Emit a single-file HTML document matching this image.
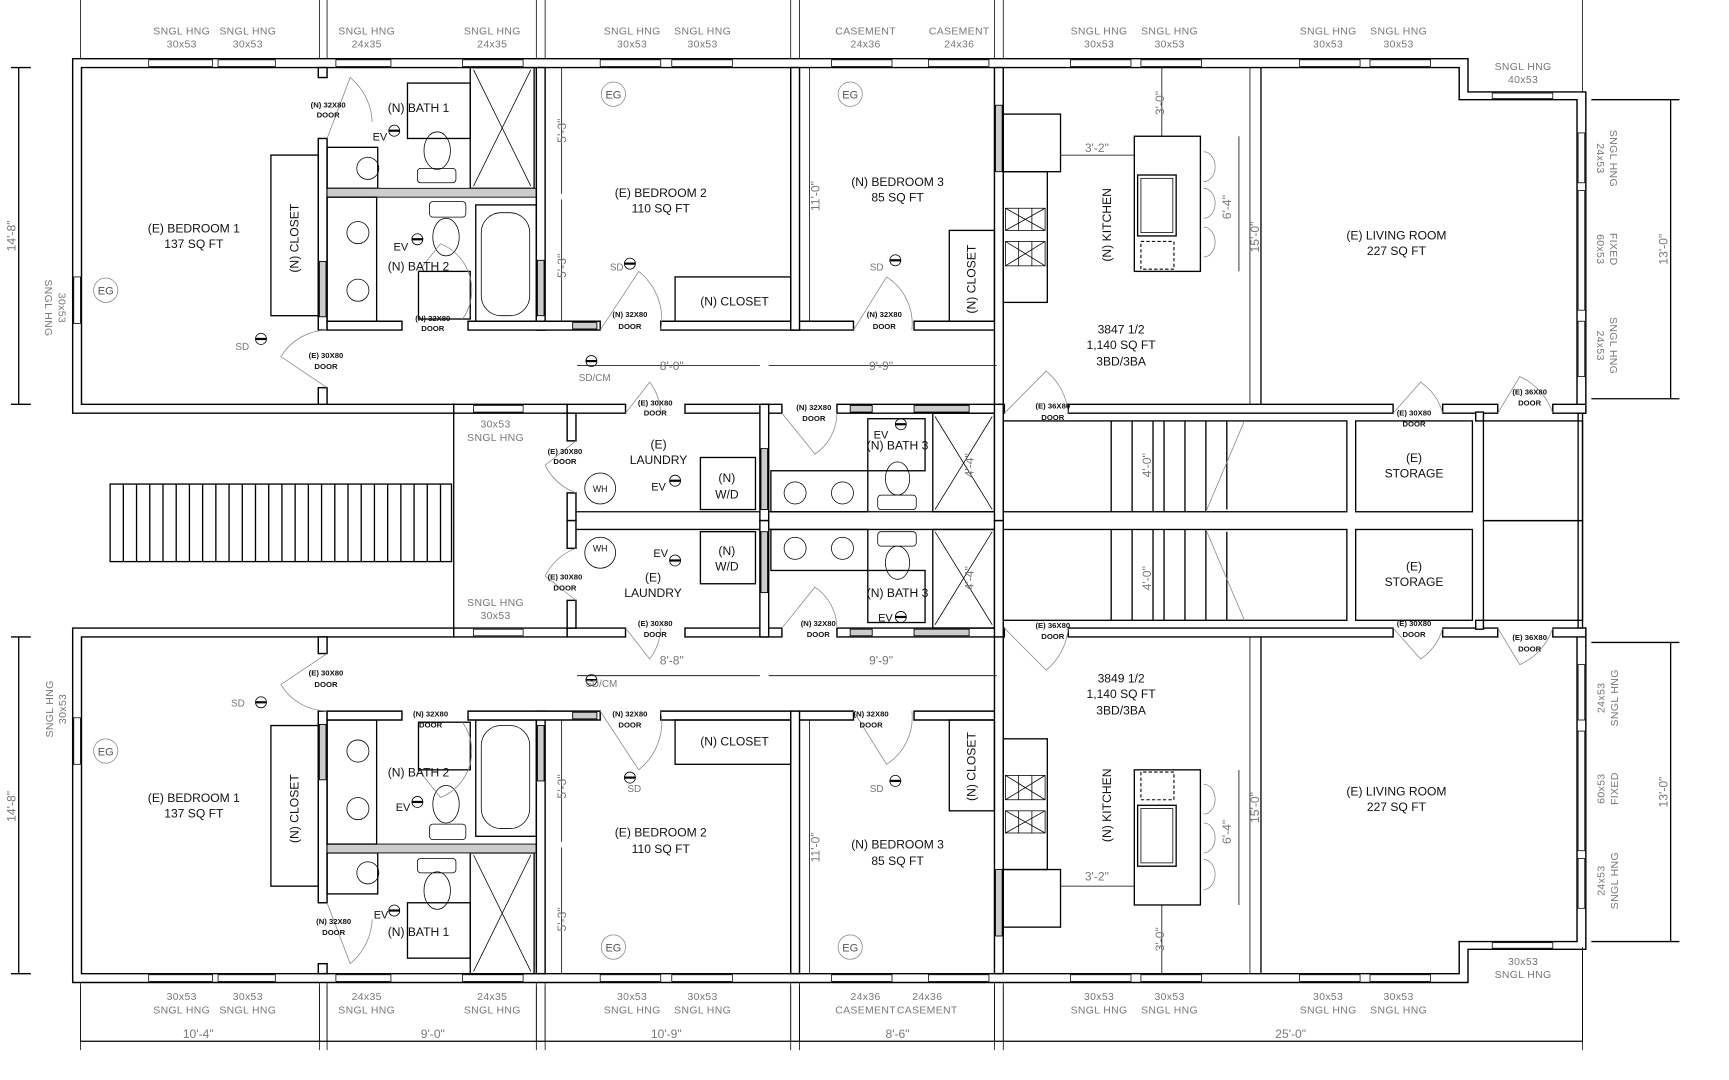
<!DOCTYPE html>
<html><head><meta charset="utf-8">
<style>
html,body{margin:0;padding:0;background:#fff;}
svg{display:block;}
text{font-family:"Liberation Sans",sans-serif;}
.w{fill:#fff;stroke:#000;stroke-width:1.3;}
.l{fill:none;stroke:#000;stroke-width:1.2;}
.t{fill:none;stroke:#000;stroke-width:0.7;}
.g{fill:none;stroke:#888;stroke-width:0.7;}
.h{fill:#ccc;stroke:#000;stroke-width:0.8;}
.rm{font-size:11px;fill:#111;text-anchor:middle;}
.dr{font-size:7px;fill:#111;text-anchor:middle;font-weight:bold;}
.wn{font-size:9.5px;fill:#777;text-anchor:middle;letter-spacing:0.3px;}
.dm{font-size:11px;fill:#777;text-anchor:middle;}
</style></head><body>
<svg width="1729" height="1080" viewBox="0 0 1570 975" preserveAspectRatio="none" xmlns="http://www.w3.org/2000/svg">
<defs>
<g id="u">
 <path class="w" d="M66,53 H1333 V83 H1440 V373 H1432 V90 H1325 V61 H74 V365 H412 V373 H66 Z"/>
 <g class="t">
  <rect x="135" y="54" width="58" height="6"/><rect x="198" y="54" width="52" height="6"/>
  <rect x="305" y="54" width="50" height="6"/><rect x="420" y="54" width="55" height="6"/>
  <rect x="545" y="54" width="55" height="6"/><rect x="610" y="54" width="55" height="6"/>
  <rect x="755" y="54" width="55" height="6"/><rect x="843" y="54" width="55" height="6"/>
  <rect x="972" y="54" width="55" height="6"/><rect x="1036" y="54" width="55" height="6"/>
  <rect x="1180" y="54" width="55" height="6"/><rect x="1244" y="54" width="55" height="6"/>
  <rect x="1355" y="84" width="55" height="5"/>
  <rect x="1433" y="120" width="6" height="45"/><rect x="1433" y="172" width="6" height="108"/><rect x="1433" y="290" width="6" height="50"/>
  <rect x="67" y="250" width="6" height="42"/>
 </g>
 <path class="w" d="M412,365 H515 V373 H412 Z"/>
 <path class="w" d="M515,365 H568 V373 H515 Z"/>
 <path class="w" d="M622,365 H710 V373 H622 Z"/>
 <path class="w" d="M760,365 H912 V373 H760 Z"/>
 <rect class="h" x="772" y="366" width="20" height="6"/><rect class="h" x="830" y="366" width="50" height="6"/>
 <path class="w" d="M970,365 H1265 V373 H970 Z"/>
 <path class="w" d="M1310,365 H1360 V373 H1310 Z"/>
 <path class="w" d="M1410,365 H1440 V373 H1410 Z"/>
 <rect class="w" x="289" y="61" width="8" height="9"/>
 <rect class="w" x="289" y="125" width="8" height="173"/>
 <rect class="h" x="290" y="236" width="6" height="50"/>
 <rect class="w" x="289" y="350" width="8" height="15"/>
 <rect class="l" x="246" y="140" width="43" height="145"/>
 <rect class="l" x="297" y="133" width="46" height="37"/><circle class="t" cx="334" cy="152" r="10"/>
 <rect class="l" x="370" y="75" width="57" height="50"/>
 <ellipse class="t" cx="397" cy="136" rx="12" ry="17"/><rect class="t" x="379" y="152" width="35" height="13" rx="3"/>
 <rect class="l" x="427" y="61" width="58" height="109"/>
 <path class="t" d="M430,63 L482,168 M482,63 L430,168"/>
 <rect class="h" x="297" y="170" width="190" height="8"/>
 <rect class="l" x="297" y="178" width="45" height="112"/>
 <circle class="t" cx="325" cy="210" r="10"/><circle class="t" cx="325" cy="262" r="10"/>
 <rect class="t" x="390" y="182" width="33" height="14" rx="3"/><ellipse class="t" cx="405" cy="214" rx="12" ry="17"/>
 <rect class="l" x="380" y="245" width="47" height="43"/>
 <rect class="l" x="432" y="185" width="55" height="105"/>
 <rect class="t" x="437" y="192" width="44" height="93" rx="18"/>
 <rect class="w" x="487" y="61" width="8" height="237"/>
 <rect class="h" x="488" y="235" width="6" height="50"/>
 <path class="w" d="M297,290 H365 V298 H297 Z"/>
 <path class="w" d="M425,290 H545 V298 H425 Z"/><rect class="h" x="520" y="291" width="22" height="6"/>
 <path class="w" d="M600,290 H775 V298 H600 Z"/>
 <path class="w" d="M830,290 H911 V298 H830 Z"/>
 <rect class="w" x="718" y="61" width="8" height="237"/>
 <rect class="w" x="903" y="61" width="8" height="305"/>
 <rect class="h" x="904" y="95" width="6" height="60"/>
 <rect class="l" x="613" y="250" width="105" height="40"/>
 <rect class="l" x="862" y="208" width="41" height="82"/>
 <rect class="l" x="911" y="103" width="52" height="52"/>
 <rect class="l" x="911" y="155" width="40" height="118"/>
 <g class="t">
  <rect x="913" y="188" width="36" height="20"/><rect x="913" y="218" width="36" height="22"/>
  <path d="M913,188 L949,208 M949,188 L913,208 M925,188 V208 M937,188 V208 M913,218 L949,240 M949,218 L913,240 M925,218 V240 M937,218 V240"/>
 </g>
 <rect class="l" x="1030" y="123" width="60" height="122"/>
 <rect class="l" x="1033" y="158" width="35" height="55"/><rect class="t" x="1036" y="161" width="29" height="49"/>
 <rect x="1036" y="218" width="30" height="25" fill="none" stroke="#000" stroke-width="1" stroke-dasharray="3,2"/>
 <path class="g" d="M1093,137 a10,13 0 0 1 0,27 M1093,170 a10,13 0 0 1 0,27 M1093,205 a10,13 0 0 1 0,27"/>
 <path class="l" d="M1145,61 V365"/>
 <path class="t" d="M963,140 H1030 M1055,61 V123 M1125,123 V245 M1135,61 V365"/>
 <path class="g" d="M297,125 L318,70 A55,55 0 0 1 338,110"/>
 <path class="g" d="M297,350 L255,322 A50,50 0 0 1 297,298"/>
 <path class="g" d="M380,245 L400,220 A45,45 0 0 1 420,288"/>
 <path class="g" d="M545,298 L580,245 A55,55 0 0 1 600,298"/>
 <path class="g" d="M775,298 L805,250 A50,50 0 0 1 828,298"/>
 <g class="g"><circle cx="557" cy="85" r="11"/><circle cx="772" cy="85" r="11"/><circle cx="96" cy="262" r="11"/></g>
 <g><circle cx="237" cy="306" r="5" class="t"/><rect x="232" y="305" width="10" height="2"/>
 <circle cx="358" cy="118" r="5" class="t"/><rect x="353" y="117" width="10" height="2"/>
 <circle cx="379" cy="216" r="5" class="t"/><rect x="374" y="215" width="10" height="2"/>
 <circle cx="572" cy="238" r="5" class="t"/><rect x="567" y="237" width="10" height="2"/>
 <circle cx="813" cy="235" r="5" class="t"/><rect x="808" y="234" width="10" height="2"/>
 <circle cx="537" cy="326" r="5" class="t"/><rect x="532" y="325" width="10" height="2"/></g>
 <path class="l" d="M17,61 V365 M10,61 H28 M10,365 H28"/>
 <path class="t" d="M510,61 V175 M510,180 V290 M735,61 V290 M524,330 H690 M698,330 H905"/>
 <path class="l" d="M1517,90 V360 M1445,90 H1525 M1445,360 H1525"/>
 <path class="t" d="M73,0 V53 M290,0 V53 M297,0 V53 M487,0 V53 M495,0 V53 M718,0 V53 M726,0 V53 M903,0 V53 M911,0 V53 M1437,0 V83"/>
 <path class="l" d="M412,373 V470"/>
 <rect class="t" x="430" y="366" width="45" height="6"/>
 <rect class="w" x="515" y="373" width="8" height="25"/>
 <rect class="w" x="515" y="445" width="8" height="25"/>
 <path class="g" d="M523,398 L495,420 A50,50 0 0 0 523,445"/>
 <path class="l" d="M523,462 H690"/>
 <rect class="w" x="690" y="365" width="8" height="105"/>
 <rect class="h" x="691" y="405" width="6" height="55"/>
 <rect class="l" x="636" y="413" width="50" height="47"/>
 <circle class="t" cx="545" cy="441" r="14"/>
 <circle cx="613" cy="434" r="5" class="t"/><rect x="608" y="433" width="10" height="2"/>
 <path class="g" d="M568,373 L590,345 A50,50 0 0 1 600,373"/>
 <path class="g" d="M710,373 L740,410 A45,45 0 0 0 760,373"/>
 <path class="l" d="M698,462 H905"/>
 <rect class="l" x="700" y="425" width="88" height="37"/>
 <circle class="t" cx="722" cy="445" r="10"/><circle class="t" cx="765" cy="445" r="10"/>
 <rect class="l" x="788" y="378" width="52" height="47"/>
 <ellipse class="t" cx="815" cy="432" rx="11" ry="15"/><rect class="t" x="797" y="447" width="35" height="13" rx="3"/>
 <rect class="l" x="847" y="373" width="56" height="89"/>
 <path class="t" d="M849,376 L901,460 M901,376 L849,460"/>
 <circle cx="818" cy="383" r="5" class="t"/><rect x="813" y="382" width="10" height="2"/>
 <rect class="w" x="903" y="365" width="8" height="105"/>
 <path class="g" d="M912,373 L950,335 A55,55 0 0 1 970,373"/>
 <rect class="l" x="911" y="380" width="312" height="82"/>
 <path class="l" d="M1009,380 V462 M1028,380 V462 M1047,380 V462 M1057,380 V462 M1076,380 V462 M1095,380 V462 M1114,380 V460"/>
 <path class="g" d="M1095,462 L1130,380"/>
 <rect class="l" x="1231" y="380" width="106" height="82"/>
 <path class="g" d="M1265,373 L1290,345 A50,50 0 0 1 1310,373"/>
 <rect class="l" x="1347" y="380" width="90" height="90"/>
 <path class="w" d="M1340,372 H1347 V380 H1340 Z"/>
 <path class="g" d="M1360,373 L1380,340 A55,55 0 0 1 1410,373"/>
 <path class="l" d="M1433,373 V470 M1437,373 V470"/>
</g>
</defs>
<use href="#u"/>
<use href="#u" transform="matrix(1 0 0 -1 0 940)"/>
<rect class="l" x="100" y="437" width="310" height="70"/>
<path class="l" d="M112,437V507M124,437V507M136,437V507M148,437V507M160,437V507M172,437V507M184,437V507M196,437V507M208,437V507M220,437V507M232,437V507M244,437V507M256,437V507M268,437V507M280,437V507M292,437V507M304,437V507M316,437V507M328,437V507M340,437V507M352,437V507M364,437V507M376,437V507M388,437V507M400,437V507"/>
<path class="l" d="M73,940 H1437"/>
<path class="t" d="M73,890 V948 M290,890 V948 M297,890 V948 M487,890 V948 M495,890 V948 M718,890 V948 M726,890 V948 M903,890 V948 M911,890 V948 M1437,855 V948"/>
<g class="wn">
<text x="165" y="31">SNGL HNG</text><text x="165" y="43">30x53</text>
<text x="225" y="31">SNGL HNG</text><text x="225" y="43">30x53</text>
<text x="333" y="31">SNGL HNG</text><text x="333" y="43">24x35</text>
<text x="447" y="31">SNGL HNG</text><text x="447" y="43">24x35</text>
<text x="574" y="31">SNGL HNG</text><text x="574" y="43">30x53</text>
<text x="638" y="31">SNGL HNG</text><text x="638" y="43">30x53</text>
<text x="786" y="31">CASEMENT</text><text x="786" y="43">24x36</text>
<text x="871" y="31">CASEMENT</text><text x="871" y="43">24x36</text>
<text x="998" y="31">SNGL HNG</text><text x="998" y="43">30x53</text>
<text x="1062" y="31">SNGL HNG</text><text x="1062" y="43">30x53</text>
<text x="1206" y="31">SNGL HNG</text><text x="1206" y="43">30x53</text>
<text x="1270" y="31">SNGL HNG</text><text x="1270" y="43">30x53</text>
<text x="1383" y="63">SNGL HNG</text><text x="1383" y="75">40x53</text>
<text x="165" y="903">30x53</text><text x="165" y="915">SNGL HNG</text>
<text x="225" y="903">30x53</text><text x="225" y="915">SNGL HNG</text>
<text x="333" y="903">24x35</text><text x="333" y="915">SNGL HNG</text>
<text x="447" y="903">24x35</text><text x="447" y="915">SNGL HNG</text>
<text x="574" y="903">30x53</text><text x="574" y="915">SNGL HNG</text>
<text x="638" y="903">30x53</text><text x="638" y="915">SNGL HNG</text>
<text x="786" y="903">24x36</text><text x="786" y="915">CASEMENT</text>
<text x="842" y="903">24x36</text><text x="842" y="915">CASEMENT</text>
<text x="998" y="903">30x53</text><text x="998" y="915">SNGL HNG</text>
<text x="1062" y="903">30x53</text><text x="1062" y="915">SNGL HNG</text>
<text x="1206" y="903">30x53</text><text x="1206" y="915">SNGL HNG</text>
<text x="1270" y="903">30x53</text><text x="1270" y="915">SNGL HNG</text>
<text x="1383" y="871">30x53</text><text x="1383" y="883">SNGL HNG</text>
<text x="450" y="386">30x53</text><text x="450" y="398">SNGL HNG</text>
<text x="450" y="547">SNGL HNG</text><text x="450" y="559">30x53</text>
<text transform="translate(1462,143) rotate(90)">SNGL HNG</text><text transform="translate(1450,143) rotate(90)">24x53</text>
<text transform="translate(1462,225) rotate(90)">FIXED</text><text transform="translate(1450,225) rotate(90)">60x53</text>
<text transform="translate(1462,312) rotate(90)">SNGL HNG</text><text transform="translate(1450,312) rotate(90)">24x53</text>
<text transform="translate(1469,630) rotate(-90)">SNGL HNG</text><text transform="translate(1457,630) rotate(-90)">24x53</text>
<text transform="translate(1469,712) rotate(-90)">FIXED</text><text transform="translate(1457,712) rotate(-90)">60x53</text>
<text transform="translate(1469,795) rotate(-90)">SNGL HNG</text><text transform="translate(1457,795) rotate(-90)">24x53</text>
<text transform="translate(41,278) rotate(90)">SNGL HNG</text><text transform="translate(53,278) rotate(90)">30x53</text>
<text transform="translate(48,640) rotate(-90)">SNGL HNG</text><text transform="translate(60,640) rotate(-90)">30x53</text>
</g>
<g class="dm">
<text transform="translate(14,213) rotate(-90)">14'-8"</text>
<text transform="translate(14,728) rotate(-90)">14'-8"</text>
<text transform="translate(1514,225) rotate(-90)">13'-0"</text>
<text transform="translate(1514,715) rotate(-90)">13'-0"</text>
<text x="180" y="937">10'-4"</text><text x="393" y="937">9'-0"</text><text x="605" y="937">10'-9"</text><text x="815" y="937">8'-6"</text><text x="1172" y="937">25'-0"</text>
<text x="610" y="334">8'-0"</text><text x="800" y="334">9'-9"</text><text x="610" y="600">8'-8"</text><text x="800" y="600">9'-9"</text>
<text x="996" y="137">3'-2"</text><text x="996" y="795">3'-2"</text>
<text transform="translate(514,118) rotate(-90)">5'-3"</text><text transform="translate(514,240) rotate(-90)">5'-3"</text>
<text transform="translate(514,710) rotate(-90)">5'-3"</text><text transform="translate(514,830) rotate(-90)">5'-3"</text>
<text transform="translate(744,177) rotate(-90)">11'-0"</text><text transform="translate(744,765) rotate(-90)">11'-0"</text>
<text transform="translate(1057,93) rotate(-90)">3'-0"</text><text transform="translate(1057,848) rotate(-90)">3'-0"</text>
<text transform="translate(1118,187) rotate(-90)">6'-4"</text><text transform="translate(1118,751) rotate(-90)">6'-4"</text>
<text transform="translate(1143,214) rotate(-90)">15'-0"</text><text transform="translate(1143,729) rotate(-90)">15'-0"</text>
<text transform="translate(1045,420) rotate(-90)">4'-0"</text><text transform="translate(1045,522) rotate(-90)">4'-0"</text>
<text transform="translate(884,420) rotate(-90)">4'-4"</text><text transform="translate(884,522) rotate(-90)">4'-4"</text>
<text x="540" y="344" font-size="9">SD/CM</text><text x="546" y="620" font-size="9">SD/CM</text>
<text x="220" y="316" font-size="9">SD</text><text x="216" y="638" font-size="9">SD</text>
<text x="560" y="244" font-size="9">SD</text><text x="576" y="715" font-size="9">SD</text>
<text x="796" y="244" font-size="9">SD</text><text x="796" y="715" font-size="9">SD</text>
</g>
<g class="rm">
<text x="176" y="210">(E) BEDROOM 1</text><text x="176" y="224">137 SQ FT</text>
<text x="380" y="101">(N) BATH 1</text><text x="380" y="244">(N) BATH 2</text>
<text x="600" y="178">(E) BEDROOM 2</text><text x="600" y="192">110 SQ FT</text>
<text x="667" y="276">(N) CLOSET</text>
<text x="815" y="168">(N) BEDROOM 3</text><text x="815" y="182">85 SQ FT</text>
<text transform="translate(886,252) rotate(-90)">(N) CLOSET</text>
<text transform="translate(271,215) rotate(-90)">(N) CLOSET</text>
<text transform="translate(1009,203) rotate(-90)">(N) KITCHEN</text>
<text x="1268" y="216">(E) LIVING ROOM</text><text x="1268" y="230">227 SQ FT</text>
<text x="1018" y="301">3847 1/2</text><text x="1018" y="315">1,140 SQ FT</text><text x="1018" y="330">3BD/3BA</text>
<text x="176" y="724">(E) BEDROOM 1</text><text x="176" y="738">137 SQ FT</text>
<text x="380" y="701">(N) BATH 2</text><text x="380" y="845">(N) BATH 1</text>
<text x="600" y="755">(E) BEDROOM 2</text><text x="600" y="770">110 SQ FT</text>
<text x="667" y="673">(N) CLOSET</text>
<text x="815" y="766">(N) BEDROOM 3</text><text x="815" y="781">85 SQ FT</text>
<text transform="translate(886,692) rotate(-90)">(N) CLOSET</text>
<text transform="translate(271,730) rotate(-90)">(N) CLOSET</text>
<text transform="translate(1009,727) rotate(-90)">(N) KITCHEN</text>
<text x="1268" y="718">(E) LIVING ROOM</text><text x="1268" y="732">227 SQ FT</text>
<text x="1018" y="616">3849 1/2</text><text x="1018" y="630">1,140 SQ FT</text><text x="1018" y="645">3BD/3BA</text>
<text x="598" y="405">(E)</text><text x="598" y="419">LAUNDRY</text>
<text x="660" y="435">(N)</text><text x="660" y="450">W/D</text>
<text x="815" y="406">(N) BATH 3</text>
<text x="1284" y="417">(E)</text><text x="1284" y="431">STORAGE</text>
<text x="660" y="501">(N)</text><text x="660" y="515">W/D</text>
<text x="593" y="525">(E)</text><text x="593" y="539">LAUNDRY</text>
<text x="815" y="539">(N) BATH 3</text>
<text x="1284" y="515">(E)</text><text x="1284" y="529">STORAGE</text>
<text x="545" y="444" font-size="8">WH</text><text x="545" y="498" font-size="8">WH</text>
<text x="557" y="89" font-size="10" fill="#555">EG</text><text x="772" y="89" font-size="10" fill="#555">EG</text><text x="96" y="266" font-size="10" fill="#555">EG</text>
<text x="96" y="682" font-size="10" fill="#555">EG</text><text x="557" y="859" font-size="10" fill="#555">EG</text><text x="772" y="859" font-size="10" fill="#555">EG</text>
<text x="345" y="127" font-size="10">EV</text><text x="364" y="226" font-size="10">EV</text><text x="598" y="443" font-size="10">EV</text><text x="800" y="396" font-size="10">EV</text>
<text x="600" y="503" font-size="10">EV</text><text x="804" y="561" font-size="10">EV</text><text x="366" y="732" font-size="10">EV</text><text x="346" y="829" font-size="10">EV</text>
</g>
<g class="dr">
<text x="298" y="97">(N) 32X80</text><text x="298" y="106">DOOR</text>
<text x="296" y="323">(E) 30X80</text><text x="296" y="333">DOOR</text>
<text x="393" y="290">(N) 32X80</text><text x="393" y="299">DOOR</text>
<text x="572" y="286">(N) 32X80</text><text x="572" y="297">DOOR</text>
<text x="803" y="286">(N) 32X80</text><text x="803" y="297">DOOR</text>
<text x="595" y="366">(E) 30X80</text><text x="595" y="375">DOOR</text>
<text x="739" y="370">(N) 32X80</text><text x="739" y="380">DOOR</text>
<text x="513" y="410">(E) 30X80</text><text x="513" y="419">DOOR</text>
<text x="956" y="369">(E) 36X80</text><text x="956" y="379">DOOR</text>
<text x="1284" y="375">(E) 30X80</text><text x="1284" y="385">DOOR</text>
<text x="1389" y="356">(E) 36X80</text><text x="1389" y="366">DOOR</text>
<text x="513" y="523">(E) 30X80</text><text x="513" y="533">DOOR</text>
<text x="595" y="565">(E) 30X80</text><text x="595" y="575">DOOR</text>
<text x="743" y="565">(N) 32X80</text><text x="743" y="575">DOOR</text>
<text x="956" y="567">(E) 36X80</text><text x="956" y="577">DOOR</text>
<text x="1284" y="565">(E) 30X80</text><text x="1284" y="575">DOOR</text>
<text x="1389" y="578">(E) 36X80</text><text x="1389" y="588">DOOR</text>
<text x="296" y="610">(E) 30X80</text><text x="296" y="620">DOOR</text>
<text x="391" y="647">(N) 32X80</text><text x="391" y="657">DOOR</text>
<text x="572" y="647">(N) 32X80</text><text x="572" y="657">DOOR</text>
<text x="791" y="647">(N) 32X80</text><text x="791" y="657">DOOR</text>
<text x="303" y="834">(N) 32X80</text><text x="303" y="844">DOOR</text>
</g>
</svg>
</body></html>
